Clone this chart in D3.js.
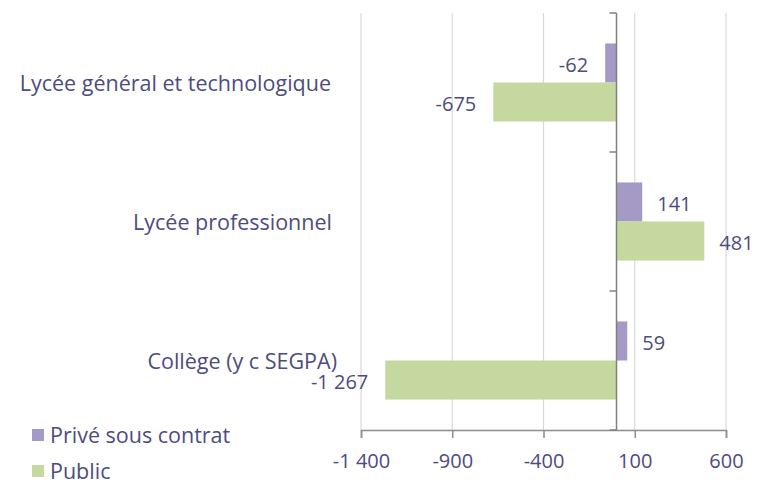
<!DOCTYPE html>
<html>
<head>
<meta charset="utf-8">
<script src="https://cdn.jsdelivr.net/npm/d3@7"></script>
<style>
  body { margin: 0; background: #fff; }
  svg { display: block; }
  text { font-family: "Open Sans", sans-serif; fill: #4e4c7e; }
</style>
</head>
<body>
<svg id="chart"></svg>
<script>
/* data */
const categories = ["Lycée général et technologique", "Lycée professionnel", "Collège (y c SEGPA)"];
const seriesNames = ["Privé sous contrat", "Public"];
const prive = [-62, 141, 59];
const publicVals = [-675, 481, -1267];
const xTicks = [-1400, -900, -400, 100, 600];

const colors = {"Privé sous contrat": "#a59ac5", "Public": "#c4d89f"};

const width = 766, height = 483;
const margin = {left: 361, right: 40, top: 13, bottom: 53};

const svg = d3.select("#chart").attr("width", width).attr("height", height);

/* french number format: space for thousands, plain hyphen for minus */
const fr = d3.formatLocale({decimal: ",", thousands: "\u00a0", grouping: [3], currency: ["", " €"], minus: "-"});
const fmt = fr.format(",d");

const x = d3.scaleLinear().domain([-1400, 600]).range([margin.left, width - margin.right]);
const y = d3.scaleBand().domain(categories).range([margin.top, height - margin.bottom]);
const sub = d3.scaleBand().domain(seriesNames).range([0, y.bandwidth()]).paddingInner(0).paddingOuter(0.78);

/* grid lines */
svg.append("g").selectAll("line").data(xTicks).join("line")
  .attr("x1", d => x(d)).attr("x2", d => x(d))
  .attr("y1", margin.top).attr("y2", height - margin.bottom)
  .attr("stroke", "#d9d9d9").attr("stroke-width", 1.2);

/* bars */
const rows = categories.map((c, i) => ({cat: c, vals: [
  {name: seriesNames[0], v: prive[i]}, {name: seriesNames[1], v: publicVals[i]}]}));

const groups = svg.append("g").selectAll("g").data(rows).join("g")
  .attr("transform", d => `translate(0,${y(d.cat)})`);

groups.selectAll("rect").data(d => d.vals).join("rect")
  .attr("x", d => x(Math.min(0, d.v)))
  .attr("width", d => Math.abs(x(d.v) - x(0)))
  .attr("y", d => sub(d.name))
  .attr("height", sub.bandwidth())
  .attr("fill", d => colors[d.name]);

groups.selectAll("text.val").data(d => d.vals).join("text")
  .attr("class", "val")
  .attr("x", d => d.v < 0 ? x(d.v) - 17 : x(d.v) + 15)
  .attr("y", d => sub(d.name) + sub.bandwidth() / 2 + 2)
  .attr("dy", "0.35em")
  .attr("text-anchor", d => d.v < 0 ? "end" : "start")
  .attr("font-size", 20)
  .text(d => fmt(d.v));

/* bottom axis */
const xAxis = svg.append("g")
  .attr("transform", `translate(0,${height - margin.bottom})`)
  .call(d3.axisBottom(x).tickValues(xTicks).tickFormat(fmt).tickSizeOuter(0).tickSize(8).tickPadding(16));
xAxis.select(".domain").attr("stroke", "#8c8c8c").attr("stroke-width", 1.5);
xAxis.selectAll(".tick line").attr("stroke", "#8c8c8c").attr("stroke-width", 1.5);
xAxis.selectAll(".tick text").attr("font-size", 20).attr("font-family", null).attr("fill", null);

/* zero axis with category ticks */
const yAxis = svg.append("g")
  .attr("transform", `translate(${x(0)},0)`);
yAxis.append("line")
  .attr("y1", margin.top).attr("y2", height - margin.bottom)
  .attr("stroke", "#7f7f7f").attr("stroke-width", 1.5);
const bounds = categories.map(c => y(c)).concat([y(categories[categories.length - 1]) + y.bandwidth()]);
yAxis.selectAll("line.tk").data(bounds).join("line")
  .attr("class", "tk")
  .attr("x1", -7).attr("x2", 0)
  .attr("y1", d => d).attr("y2", d => d)
  .attr("stroke", "#7f7f7f").attr("stroke-width", 1.5);

/* category labels */
svg.append("g").selectAll("text").data(categories).join("text")
  .attr("x", (d, i) => [331, 332, 337][i])
  .attr("y", d => y(d) + y.bandwidth() / 2 + 1)
  .attr("dy", "0.35em")
  .attr("text-anchor", "end")
  .attr("font-size", 21.5)
  .text(d => d);

/* legend */
const legend = svg.append("g").selectAll("g").data(seriesNames).join("g")
  .attr("transform", (d, i) => `translate(32,${435 + i * 36})`);
legend.append("rect").attr("x", 0).attr("y", -6).attr("width", 12).attr("height", 12)
  .attr("fill", d => colors[d]);
legend.append("text").attr("x", 18).attr("dy", "0.35em").attr("font-size", 21.5).text(d => d);
</script>
</body>
</html>
